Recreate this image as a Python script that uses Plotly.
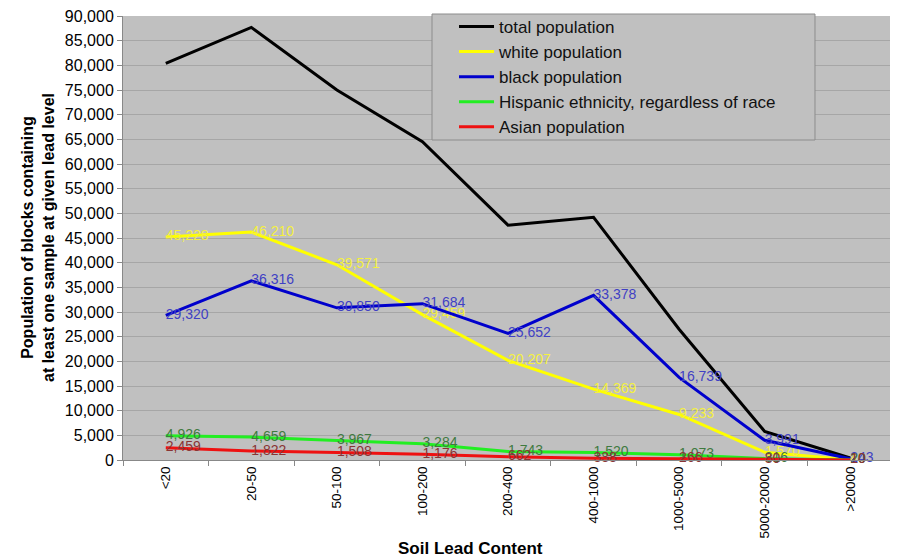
import plotly.graph_objects as go

categories = ["<20", "20-50", "50-100", "100-200", "200-400", "400-1000", "1000-5000", "5000-20000", ">20000"]
total = [80400, 87700, 75000, 64500, 47600, 49200, 26500, 5800, 400]
white = [45228, 46210, 39571, 29459, 20207, 14369, 9233, 1570, 40]
black = [29320, 36316, 30850, 31684, 25652, 33378, 16739, 3991, 243]
hispanic = [4926, 4659, 3967, 3284, 1743, 1520, 1073, 316, 20]
asian = [2459, 1822, 1508, 1176, 662, 338, 266, 80, 10]

series = [
    ("total population", total, "#000000", None),
    ("white population", white, "#ffff00", "#f4f040"),
    ("black population", black, "#0000cc", "#4040c4"),
    ("Hispanic ethnicity, regardless of race", hispanic, "#22ee22", "#3f7a3f"),
    ("Asian population", asian, "#ee1111", "#8a3434"),
]

FONT = "Arial, Liberation Sans, sans-serif"

fig = go.Figure()
for i, (name, vals, col, tcol) in enumerate(series):
    if tcol:
        kw = dict(
            mode="lines+text",
            text=[f"{v:,}" for v in vals],
            textposition="middle right",
            textfont=dict(family=FONT, size=14, color=tcol),
        )
    else:
        kw = dict(mode="lines")
    fig.add_trace(go.Scatter(
        x=categories, y=vals, name=name, legendgroup=f"g{i}",
        line=dict(color=col, width=3), cliponaxis=False, **kw))

fig.update_layout(
    width=890, height=552,
    margin=dict(l=115, r=5, t=8, b=100, autoexpand=False),
    paper_bgcolor="white", plot_bgcolor="#c0c0c0",
    font=dict(family=FONT, color="black", size=14),
    showlegend=True,
    legend=dict(
        x=0.4299, y=1.016, xanchor="left", yanchor="top",
        bgcolor="rgba(0,0,0,0)", borderwidth=0,
        font=dict(size=17, family=FONT, color="#111"),
        tracegroupgap=0, itemwidth=35,
    ),
    shapes=[
        dict(type="rect", xref="paper", yref="paper",
             x0=0.4013, x1=0.8987, y0=0.7207, y1=1.0045,
             fillcolor="#c0c0c0", line=dict(color="#8c8c8c", width=1), layer="above"),
    ],
    xaxis=dict(
        type="category", tickangle=-90, tickson="boundaries",
        ticks="outside", ticklen=5, tickcolor="#888",
        showgrid=False, showline=True, linecolor="#888",
        tickfont=dict(size=13.5), automargin=False,
        range=[-0.5, 8.5],
    ),
    yaxis=dict(
        range=[0, 90000], dtick=5000, tickformat=",",
        ticks="outside", ticklen=5, tickcolor="#888",
        showgrid=True, gridcolor="#a6a6a6", gridwidth=1,
        showline=True, linecolor="#888", zeroline=False,
        tickfont=dict(size=16), automargin=False,
        ticklabeloverflow="allow",
    ),
    annotations=[
        dict(text="<b>Soil Lead Content</b>", xref="paper", yref="paper",
             x=(470 - 123) / 770, y=-(540 - 452) / 444, xanchor="center", yanchor="middle",
             showarrow=False, font=dict(size=17)),
        dict(text="<b>Population of blocks containing<br>at least one sample at given lead level</b>",
             xref="paper", yref="paper", x=-(115 - 30) / 770, y=0.5, textangle=-90,
             xanchor="center", yanchor="middle", showarrow=False, font=dict(size=16)),
    ],
)

fig.write_html("out.html")
